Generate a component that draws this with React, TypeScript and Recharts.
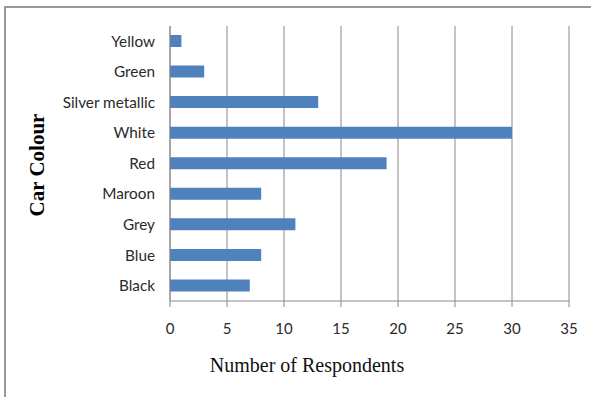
import { BarChart, Bar, XAxis, YAxis, CartesianGrid, Label } from "recharts"

// survey answers, listed top to bottom as drawn
const colours = ["Yellow", "Green", "Silver metallic", "White", "Red", "Maroon", "Grey", "Blue", "Black"]
const respondents = [1, 3, 13, 30, 19, 8, 11, 8, 7]
const xTicks = [0, 5, 10, 15, 20, 25, 30, 35]

const data = colours.map((colour, i) => ({ colour, respondents: respondents[i] }))

const AXIS = "#888"
const LABEL_FONT = "Lato, 'Open Sans', sans-serif"
const TITLE_FONT = "'Liberation Serif', 'DejaVu Serif', serif"

function CategoryTick({ x, y, payload }: any) {
  return (
    <text x={x} y={y} dy="0.35em" textAnchor="end" fill="#2a2a2a" fontSize={15.3} fontFamily={LABEL_FONT}>
      {payload.value}
    </text>
  )
}

function ValueTick({ x, y, payload }: any) {
  return (
    <text x={x} y={y + 25} textAnchor="middle" fill="#2a2a2a" fontSize={15} fontFamily={LABEL_FONT}>
      {payload.value}
    </text>
  )
}

export default function App() {
  return (
    <div style={{ position: "absolute", left: 0, top: 0, width: 591, height: 397, background: "#fff" }}>
      {/* frame around the chart area, open on the right and bottom */}
      <div
        style={{
          position: "absolute", left: 4, top: 6, width: 587, height: 391,
          borderTop: "2px solid #9a9a9a", borderLeft: "2px solid #9a9a9a", boxSizing: "border-box",
        }}
      />
      <BarChart
        width={591}
        height={397}
        data={data}
        layout="vertical"
        margin={{ top: 26, right: 22, bottom: 0, left: 0 }}
        barSize={12}
        style={{ position: "absolute", left: 0, top: 0 }}
      >
        <CartesianGrid horizontal={false} stroke={AXIS} />
        <XAxis
          type="number"
          domain={[0, 35]}
          ticks={xTicks}
          height={96}
          axisLine={{ stroke: AXIS }}
          tickLine={{ stroke: AXIS }}
          tickSize={6}
          tick={<ValueTick />}
        >
          <Label
            content={() => (
              <text x={307} y={372} textAnchor="middle" fill="#111" fontSize={20} fontFamily={TITLE_FONT}>
                Number of Respondents
              </text>
            )}
          />
        </XAxis>
        <YAxis
          type="category"
          dataKey="colour"
          width={170}
          axisLine={{ stroke: AXIS }}
          tickLine={false}
          tickSize={0}
          tickMargin={15}
          tick={<CategoryTick />}
          interval={0}
        >
          <Label
            content={() => (
              <text
                x={44}
                y={165}
                transform="rotate(-90 44 165)"
                textAnchor="middle"
                fill="#000"
                fontSize={21}
                fontWeight="bold"
                fontFamily={TITLE_FONT}
              >
                Car Colour
              </text>
            )}
          />
        </YAxis>
        <Bar dataKey="respondents" fill="#4f81bd" isAnimationActive={false} />
      </BarChart>
    </div>
  )
}
